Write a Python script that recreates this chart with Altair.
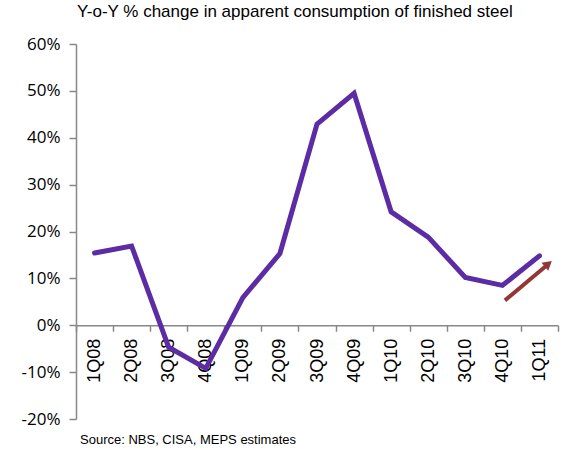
import altair as alt
import pandas as pd

quarters = ["1Q08", "2Q08", "3Q08", "4Q08", "1Q09", "2Q09", "3Q09", "4Q09",
            "1Q10", "2Q10", "3Q10", "4Q10", "1Q11"]
yoy_pct = [15.4, 16.9, -4.7, -9.2, 5.9, 15.3, 42.9, 49.5, 24.2, 18.8, 10.2, 8.5, 14.8]

arrow_x = [11.07, 12.2]
arrow_pct = [5.3, 12.8]
head_x = [12.24]
head_pct = [13.1]

title_text = "Y-o-Y % change in apparent consumption of finished steel"
source_text = "Source: NBS, CISA, MEPS estimates"

df = pd.DataFrame({"idx": list(range(len(quarters))), "q": quarters,
                   "v": [p / 100 for p in yoy_pct]})
arrow_df = pd.DataFrame({"x": arrow_x, "v": [p / 100 for p in arrow_pct]})
head_df = pd.DataFrame({"x": head_x, "v": [p / 100 for p in head_pct]})
src_df = pd.DataFrame({"t": [source_text]})

W, H = 482, 375
xscale = alt.Scale(domain=[-0.5, len(quarters) - 0.5], nice=False, zero=False)
yscale = alt.Scale(domain=[-0.2, 0.6], nice=False)
zero_offset = -H * 0.2 / 0.8

label_expr = "[" + ",".join("'%s'" % q for q in quarters) + "][datum.value]"

tick_axis = alt.Axis(orient="bottom", values=[i - 0.5 for i in range(len(quarters) + 1)],
                     labels=False, title=None, grid=False, tickSize=6, domainColor="#888888",
                     tickColor="#888888", domainWidth=1.5, tickWidth=1.5, offset=zero_offset)
label_axis = alt.Axis(orient="bottom", values=list(range(len(quarters))), labelExpr=label_expr,
                      title=None, grid=False, ticks=False, domain=False, labelAngle=270,
                      labelPadding=13, labelAlign="right", labelBaseline="middle",
                      labelFont="Liberation Sans", labelFontSize=18, labelColor="#000000",
                      offset=zero_offset)
yaxis = alt.Axis(values=[-0.2, -0.1, 0, 0.1, 0.2, 0.3, 0.4, 0.5, 0.6],
                 labelExpr="round(datum.value * 100) + '%'",
                 title=None, grid=False, tickSize=7, domainColor="#888888", tickColor="#888888",
                 domainWidth=1.5, tickWidth=1.5, labelFont="Open Sans", labelFontSize=17,
                 labelColor="#000000", labelPadding=9)

line = alt.Chart(df).mark_line(color="#5B2CA3", strokeWidth=5, strokeCap="round",
                               strokeJoin="miter").encode(
    x=alt.X("idx:Q", scale=xscale, axis=tick_axis),
    y=alt.Y("v:Q", scale=yscale, axis=yaxis),
)
labels = alt.Chart(df).mark_point(opacity=0).encode(
    x=alt.X("idx:Q", scale=xscale, axis=label_axis),
    y=alt.Y("v:Q", scale=yscale, axis=None),
)
arrow = alt.Chart(arrow_df).mark_line(color="#943634", strokeWidth=4).encode(
    x=alt.X("x:Q", scale=xscale, axis=None),
    y=alt.Y("v:Q", scale=yscale, axis=None),
)
head = alt.Chart(head_df).mark_point(shape="triangle-up", filled=True, opacity=1,
                                     color="#943634", size=110, angle=50).encode(
    x=alt.X("x:Q", scale=xscale, axis=None),
    y=alt.Y("v:Q", scale=yscale, axis=None),
)
source = alt.Chart(src_df).mark_text(align="left", baseline="middle", fontSize=13,
                                     font="Liberation Sans", color="#000000").encode(
    text="t:N", x=alt.value(4), y=alt.value(H + 21),
)

chart = alt.layer(line, labels, arrow, head, source).resolve_axis(
    x="independent", y="independent").properties(
    width=W, height=H,
    title=alt.Title(title_text, anchor="start", frame="group", dx=1, offset=14,
                    fontSize=17, fontWeight="normal", font="Liberation Sans", color="#000000"),
    autosize=alt.AutoSizeParams(type="none"),
    padding={"left": 76, "top": 44, "right": 21, "bottom": 31},
).configure_view(stroke=None)

chart.save("out.html", embed_options={"renderer": "svg", "actions": False})
